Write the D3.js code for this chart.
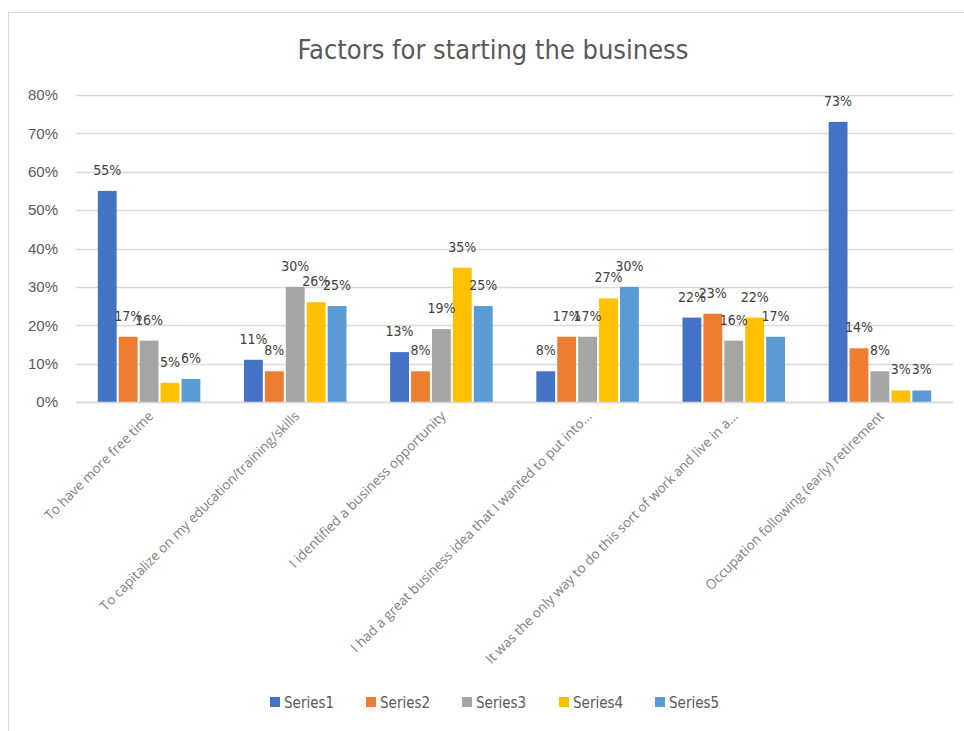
<!DOCTYPE html>
<html>
<head>
<meta charset="utf-8">
<script src="https://cdn.jsdelivr.net/npm/d3@7"></script>
<style>
  body { margin: 0; background: #fff; }
  svg { font-family: "Liberation Sans Narrow", "DejaVu Sans Condensed", "Open Sans", sans-serif; }
</style>
</head>
<body>
<svg id="chart" width="964" height="731"></svg>
<script>
var categories = [
  "To have more free time",
  "To capitalize on my education/training/skills",
  "I identified a business opportunity",
  "I had a great business idea that I wanted to put into...",
  "It was the only way to do this sort of work and live in a...",
  "Occupation following (early) retirement"
];
var seriesNames = ["Series1", "Series2", "Series3", "Series4", "Series5"];
var colors = ["#4472c4", "#ed7d31", "#a5a5a5", "#ffc000", "#5b9bd5"];

var series1 = [0.55, 0.11, 0.13, 0.08, 0.22, 0.73];
var series2 = [0.17, 0.08, 0.08, 0.17, 0.23, 0.14];
var series3 = [0.16, 0.30, 0.19, 0.17, 0.16, 0.08];
var series4 = [0.05, 0.26, 0.35, 0.27, 0.22, 0.03];
var series5 = [0.06, 0.25, 0.25, 0.30, 0.17, 0.03];
var yTicks = [0, 0.1, 0.2, 0.3, 0.4, 0.5, 0.6, 0.7, 0.8];

var allSeries = [series1, series2, series3, series4, series5];

var svg = d3.select("#chart");

// chart frame
svg.append("rect")
  .attr("x", 8.5).attr("y", 12.5)
  .attr("width", 970).attr("height", 730)
  .attr("fill", "#fff")
  .attr("stroke", "#d9d9d9");

var margin = {left: 76, right: 11, top: 95, bottom: 329};
var width = 964 - margin.left - margin.right;
var height = 731 - margin.top - margin.bottom;

var g = svg.append("g").attr("transform", "translate(" + margin.left + "," + margin.top + ")");

var x0 = d3.scaleBand().domain(categories).range([0, width]).paddingInner(0.27).paddingOuter(0.135);
var x1 = d3.scaleBand().domain(seriesNames).range([0, x0.bandwidth()]).padding(0.1);
var y = d3.scaleLinear().domain([0, 0.8]).range([height, 0]);

// title
svg.append("text")
  .attr("x", 493).attr("y", 59)
  .attr("text-anchor", "middle")
  .attr("fill", "#595959")
  .style("font-size", "27px")
  .text("Factors for starting the business");

// gridlines
g.selectAll(".grid").data(yTicks).enter().append("line")
  .attr("x1", 0).attr("x2", width)
  .attr("y1", function(d) { return Math.round(y(d)) + 0.5; })
  .attr("y2", function(d) { return Math.round(y(d)) + 0.5; })
  .attr("stroke", "#d9d9d9").attr("stroke-width", 1.3);

// y axis labels
var yAxis = d3.axisLeft(y).tickValues(yTicks).tickFormat(d3.format(".0%")).tickSize(0).tickPadding(18);
var ya = g.append("g").call(yAxis);
ya.select(".domain").remove();
ya.selectAll("text").attr("fill", "#595959").style("font-size", "15px");

// bars
var groups = g.selectAll(".cat").data(categories).enter().append("g")
  .attr("transform", function(d) { return "translate(" + x0(d) + ",0)"; });

groups.each(function(cat, ci) {
  var grp = d3.select(this);
  var vals = allSeries.map(function(s, si) { return {name: seriesNames[si], v: s[ci], c: colors[si]}; });
  grp.selectAll("rect").data(vals).enter().append("rect")
    .attr("x", function(d) { return x1(d.name); })
    .attr("y", function(d) { return y(d.v); })
    .attr("width", x1.bandwidth())
    .attr("height", function(d) { return height - y(d.v); })
    .attr("fill", function(d) { return d.c; });
  grp.selectAll("text.lbl").data(vals).enter().append("text")
    .attr("class", "lbl")
    .attr("x", function(d) { return x1(d.name) + x1.bandwidth() / 2; })
    .attr("y", function(d) { return y(d.v) - 16; })
    .attr("text-anchor", "middle")
    .attr("fill", "#404040")
    .style("font-size", "14px")
    .text(function(d) { return d3.format(".0%")(d.v); });
});

// x axis line
g.append("line")
  .attr("x1", 0).attr("x2", width)
  .attr("y1", height + 0.5).attr("y2", height + 0.5)
  .attr("stroke", "#d9d9d9").attr("stroke-width", 1.3);

// x labels
g.selectAll(".xl").data(categories).enter().append("text")
  .attr("transform", function(d) {
    return "translate(" + (x0(d) + x0.bandwidth() / 2 + 5) + "," + (height + 15) + ") rotate(-45)";
  })
  .attr("text-anchor", "end")
  .attr("fill", "#7f7f7f")
  .style("font-family", "'Open Sans', sans-serif")
  .style("font-size", "13.5px")
  .text(function(d) { return d; });

// legend
var legend = svg.append("g").attr("transform", "translate(270,703)");
var lx = [0, 96, 192, 289, 385];
seriesNames.forEach(function(n, i) {
  var it = legend.append("g").attr("transform", "translate(" + lx[i] + ",0)");
  it.append("rect").attr("x", 0).attr("y", -6).attr("width", 10).attr("height", 10).attr("fill", colors[i]);
  it.append("text").attr("x", 14).attr("y", 5).attr("fill", "#595959").style("font-size", "15px").text(n);
});
</script>
</body>
</html>
